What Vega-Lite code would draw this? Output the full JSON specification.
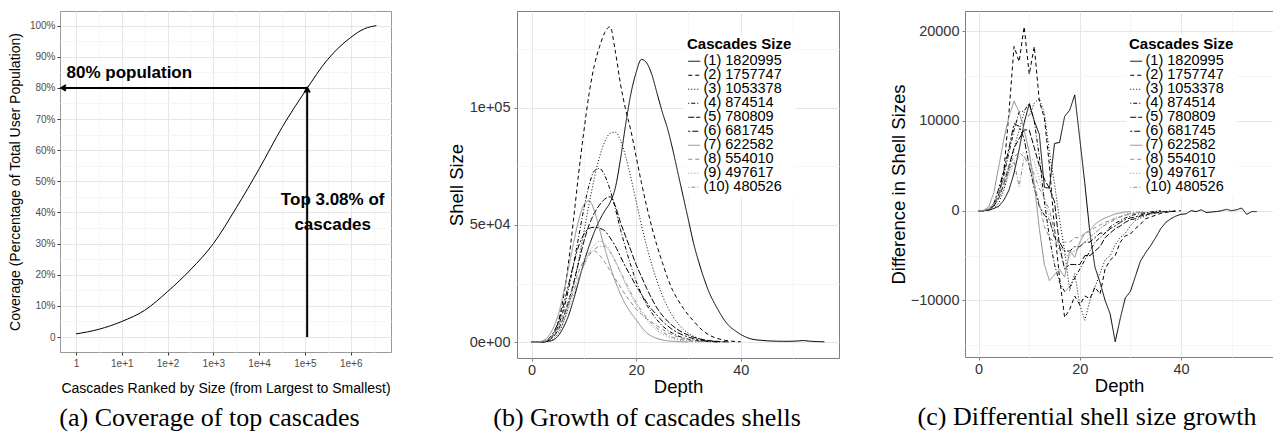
{
"$schema":"https://vega.github.io/schema/vega-lite/v6.json",
"background":"white",
"padding":{"left":7,"top":10,"right":2,"bottom":0},
"bounds":"flush",
"spacing":126,
"config":{"font":"Liberation Sans","view":{"stroke":"#7f7f7f"},
"axis":{"domain":false,"labelFont":"Liberation Sans","titleFont":"Liberation Sans","titleFontWeight":"normal","titleColor":"#000000","labelFlush":false,"gridWidth":1},
"title":{"font":"Liberation Serif","fontSize":26,"fontWeight":"normal","color":"#000000"},
"legend":{"labelFont":"Liberation Sans","titleFont":"Liberation Sans"}},
"resolve":{"scale":{"color":"independent","strokeDash":"independent","x":"independent","y":"independent"},"legend":{"color":"independent","strokeDash":"independent"}},
"datasets":{
"coverage":[{"rank":1,"coverage":1.0},{"rank":3.162,"coverage":2.5},{"rank":10,"coverage":5.0},{"rank":31.62,"coverage":8.6},{"rank":100,"coverage":14.6},{"rank":316.2,"coverage":21.6},{"rank":1000,"coverage":30.0},{"rank":3162,"coverage":41.5},{"rank":10000,"coverage":54.0},{"rank":31623,"coverage":67.3},{"rank":100000,"coverage":78.8},{"rank":316228,"coverage":89.2},{"rank":1000000,"coverage":96.2},{"rank":1995262,"coverage":99.0},{"rank":3630781,"coverage":100}],
"arrows":[{"rank":112000,"rank2":0.48,"coverage":80,"coverage2":80},{"rank":112000,"rank2":112000,"coverage":0,"coverage2":80}],
"heads":[{"rank":0.48,"coverage":80,"dir":"left"},{"rank":112000,"coverage":80,"dir":"up"}],
"notes":[{"rank":14.6,"coverage":84.9,"note":"80% population"},{"rank":403700,"coverage":44.0,"note":"Top 3.08% of"},{"rank":403700,"coverage":36.0,"note":"cascades"}],
"shells":[
{"series":"(1) 1820995","depth":0,"size":0},{"series":"(1) 1820995","depth":1,"size":0},{"series":"(1) 1820995","depth":2,"size":50},{"series":"(1) 1820995","depth":3,"size":300},{"series":"(1) 1820995","depth":4,"size":800},{"series":"(1) 1820995","depth":5,"size":2500},{"series":"(1) 1820995","depth":6,"size":6000},{"series":"(1) 1820995","depth":7,"size":11000},{"series":"(1) 1820995","depth":8,"size":18000},{"series":"(1) 1820995","depth":9,"size":26000},{"series":"(1) 1820995","depth":10,"size":34000},{"series":"(1) 1820995","depth":11,"size":41000},{"series":"(1) 1820995","depth":12,"size":47000},{"series":"(1) 1820995","depth":13,"size":52000},{"series":"(1) 1820995","depth":14,"size":56000},{"series":"(1) 1820995","depth":15,"size":59500},{"series":"(1) 1820995","depth":16,"size":65700},{"series":"(1) 1820995","depth":17,"size":78000},{"series":"(1) 1820995","depth":18,"size":93000},{"series":"(1) 1820995","depth":19,"size":106000},{"series":"(1) 1820995","depth":20,"size":115000},{"series":"(1) 1820995","depth":21,"size":120500},{"series":"(1) 1820995","depth":22,"size":119000},{"series":"(1) 1820995","depth":23,"size":114000},{"series":"(1) 1820995","depth":24,"size":106000},{"series":"(1) 1820995","depth":25,"size":98000},{"series":"(1) 1820995","depth":26,"size":91000},{"series":"(1) 1820995","depth":27,"size":82000},{"series":"(1) 1820995","depth":28,"size":72000},{"series":"(1) 1820995","depth":29,"size":62000},{"series":"(1) 1820995","depth":30,"size":52000},{"series":"(1) 1820995","depth":31,"size":42000},{"series":"(1) 1820995","depth":32,"size":34000},{"series":"(1) 1820995","depth":33,"size":27000},{"series":"(1) 1820995","depth":34,"size":21000},{"series":"(1) 1820995","depth":35,"size":16500},{"series":"(1) 1820995","depth":36,"size":12500},{"series":"(1) 1820995","depth":37,"size":9000},{"series":"(1) 1820995","depth":38,"size":6500},{"series":"(1) 1820995","depth":39,"size":4800},{"series":"(1) 1820995","depth":40,"size":3300},{"series":"(1) 1820995","depth":41,"size":2200},{"series":"(1) 1820995","depth":42,"size":1400},{"series":"(1) 1820995","depth":43,"size":1000},{"series":"(1) 1820995","depth":44,"size":800},{"series":"(1) 1820995","depth":45,"size":600},{"series":"(1) 1820995","depth":46,"size":500},{"series":"(1) 1820995","depth":47,"size":450},{"series":"(1) 1820995","depth":48,"size":400},{"series":"(1) 1820995","depth":49,"size":400},{"series":"(1) 1820995","depth":50,"size":450},{"series":"(1) 1820995","depth":51,"size":550},{"series":"(1) 1820995","depth":52,"size":700},{"series":"(1) 1820995","depth":53,"size":500},{"series":"(1) 1820995","depth":54,"size":350},{"series":"(1) 1820995","depth":55,"size":250},{"series":"(1) 1820995","depth":56,"size":200},
{"series":"(2) 1757747","depth":0,"size":0},{"series":"(2) 1757747","depth":1,"size":0},{"series":"(2) 1757747","depth":2,"size":100},{"series":"(2) 1757747","depth":3,"size":500},{"series":"(2) 1757747","depth":4,"size":2500},{"series":"(2) 1757747","depth":5,"size":8000},{"series":"(2) 1757747","depth":6,"size":18000},{"series":"(2) 1757747","depth":7,"size":33000},{"series":"(2) 1757747","depth":8,"size":52000},{"series":"(2) 1757747","depth":9,"size":72000},{"series":"(2) 1757747","depth":10,"size":90000},{"series":"(2) 1757747","depth":11,"size":106000},{"series":"(2) 1757747","depth":12,"size":118000},{"series":"(2) 1757747","depth":13,"size":126000},{"series":"(2) 1757747","depth":14,"size":132000},{"series":"(2) 1757747","depth":15,"size":134400},{"series":"(2) 1757747","depth":16,"size":124000},{"series":"(2) 1757747","depth":17,"size":110000},{"series":"(2) 1757747","depth":18,"size":99000},{"series":"(2) 1757747","depth":19,"size":90000},{"series":"(2) 1757747","depth":20,"size":79000},{"series":"(2) 1757747","depth":21,"size":68000},{"series":"(2) 1757747","depth":22,"size":58000},{"series":"(2) 1757747","depth":23,"size":49000},{"series":"(2) 1757747","depth":24,"size":41000},{"series":"(2) 1757747","depth":25,"size":34000},{"series":"(2) 1757747","depth":26,"size":27500},{"series":"(2) 1757747","depth":27,"size":22000},{"series":"(2) 1757747","depth":28,"size":18000},{"series":"(2) 1757747","depth":29,"size":14500},{"series":"(2) 1757747","depth":30,"size":11500},{"series":"(2) 1757747","depth":31,"size":9000},{"series":"(2) 1757747","depth":32,"size":6500},{"series":"(2) 1757747","depth":33,"size":4500},{"series":"(2) 1757747","depth":34,"size":3000},{"series":"(2) 1757747","depth":35,"size":2000},{"series":"(2) 1757747","depth":36,"size":1300},{"series":"(2) 1757747","depth":37,"size":800},{"series":"(2) 1757747","depth":38,"size":500},{"series":"(2) 1757747","depth":39,"size":300},{"series":"(2) 1757747","depth":40,"size":200},
{"series":"(3) 1053378","depth":0,"size":0},{"series":"(3) 1053378","depth":1,"size":0},{"series":"(3) 1053378","depth":2,"size":50},{"series":"(3) 1053378","depth":3,"size":300},{"series":"(3) 1053378","depth":4,"size":1200},{"series":"(3) 1053378","depth":5,"size":3500},{"series":"(3) 1053378","depth":6,"size":8000},{"series":"(3) 1053378","depth":7,"size":15000},{"series":"(3) 1053378","depth":8,"size":24000},{"series":"(3) 1053378","depth":9,"size":35000},{"series":"(3) 1053378","depth":10,"size":47000},{"series":"(3) 1053378","depth":11,"size":59000},{"series":"(3) 1053378","depth":12,"size":70000},{"series":"(3) 1053378","depth":13,"size":79000},{"series":"(3) 1053378","depth":14,"size":85500},{"series":"(3) 1053378","depth":15,"size":89000},{"series":"(3) 1053378","depth":16,"size":89500},{"series":"(3) 1053378","depth":17,"size":86000},{"series":"(3) 1053378","depth":18,"size":79000},{"series":"(3) 1053378","depth":19,"size":70000},{"series":"(3) 1053378","depth":20,"size":60000},{"series":"(3) 1053378","depth":21,"size":50000},{"series":"(3) 1053378","depth":22,"size":41000},{"series":"(3) 1053378","depth":23,"size":33000},{"series":"(3) 1053378","depth":24,"size":26000},{"series":"(3) 1053378","depth":25,"size":20000},{"series":"(3) 1053378","depth":26,"size":15000},{"series":"(3) 1053378","depth":27,"size":11000},{"series":"(3) 1053378","depth":28,"size":8000},{"series":"(3) 1053378","depth":29,"size":5500},{"series":"(3) 1053378","depth":30,"size":3800},{"series":"(3) 1053378","depth":31,"size":2500},{"series":"(3) 1053378","depth":32,"size":1600},{"series":"(3) 1053378","depth":33,"size":1000},{"series":"(3) 1053378","depth":34,"size":600},{"series":"(3) 1053378","depth":35,"size":350},{"series":"(3) 1053378","depth":36,"size":200},{"series":"(3) 1053378","depth":37,"size":100},
{"series":"(4) 874514","depth":0,"size":0},{"series":"(4) 874514","depth":1,"size":0},{"series":"(4) 874514","depth":2,"size":100},{"series":"(4) 874514","depth":3,"size":700},{"series":"(4) 874514","depth":4,"size":2500},{"series":"(4) 874514","depth":5,"size":6500},{"series":"(4) 874514","depth":6,"size":13000},{"series":"(4) 874514","depth":7,"size":22000},{"series":"(4) 874514","depth":8,"size":33000},{"series":"(4) 874514","depth":9,"size":45000},{"series":"(4) 874514","depth":10,"size":57000},{"series":"(4) 874514","depth":11,"size":67000},{"series":"(4) 874514","depth":12,"size":73000},{"series":"(4) 874514","depth":13,"size":74000},{"series":"(4) 874514","depth":14,"size":71000},{"series":"(4) 874514","depth":15,"size":65000},{"series":"(4) 874514","depth":16,"size":57000},{"series":"(4) 874514","depth":17,"size":48000},{"series":"(4) 874514","depth":18,"size":40000},{"series":"(4) 874514","depth":19,"size":32500},{"series":"(4) 874514","depth":20,"size":26000},{"series":"(4) 874514","depth":21,"size":20500},{"series":"(4) 874514","depth":22,"size":16000},{"series":"(4) 874514","depth":23,"size":12500},{"series":"(4) 874514","depth":24,"size":9500},{"series":"(4) 874514","depth":25,"size":7000},{"series":"(4) 874514","depth":26,"size":5200},{"series":"(4) 874514","depth":27,"size":3800},{"series":"(4) 874514","depth":28,"size":2700},{"series":"(4) 874514","depth":29,"size":1900},{"series":"(4) 874514","depth":30,"size":1300},{"series":"(4) 874514","depth":31,"size":900},{"series":"(4) 874514","depth":32,"size":600},{"series":"(4) 874514","depth":33,"size":400},{"series":"(4) 874514","depth":34,"size":250},{"series":"(4) 874514","depth":35,"size":150},{"series":"(4) 874514","depth":36,"size":100},
{"series":"(5) 780809","depth":0,"size":0},{"series":"(5) 780809","depth":1,"size":0},{"series":"(5) 780809","depth":2,"size":100},{"series":"(5) 780809","depth":3,"size":600},{"series":"(5) 780809","depth":4,"size":2000},{"series":"(5) 780809","depth":5,"size":5000},{"series":"(5) 780809","depth":6,"size":10000},{"series":"(5) 780809","depth":7,"size":17000},{"series":"(5) 780809","depth":8,"size":25000},{"series":"(5) 780809","depth":9,"size":34000},{"series":"(5) 780809","depth":10,"size":43000},{"series":"(5) 780809","depth":11,"size":50000},{"series":"(5) 780809","depth":12,"size":55000},{"series":"(5) 780809","depth":13,"size":58500},{"series":"(5) 780809","depth":14,"size":61000},{"series":"(5) 780809","depth":15,"size":62000},{"series":"(5) 780809","depth":16,"size":58000},{"series":"(5) 780809","depth":17,"size":51000},{"series":"(5) 780809","depth":18,"size":45000},{"series":"(5) 780809","depth":19,"size":39000},{"series":"(5) 780809","depth":20,"size":33000},{"series":"(5) 780809","depth":21,"size":28000},{"series":"(5) 780809","depth":22,"size":23000},{"series":"(5) 780809","depth":23,"size":18500},{"series":"(5) 780809","depth":24,"size":14500},{"series":"(5) 780809","depth":25,"size":11500},{"series":"(5) 780809","depth":26,"size":9000},{"series":"(5) 780809","depth":27,"size":7000},{"series":"(5) 780809","depth":28,"size":5300},{"series":"(5) 780809","depth":29,"size":4000},{"series":"(5) 780809","depth":30,"size":3000},{"series":"(5) 780809","depth":31,"size":2100},{"series":"(5) 780809","depth":32,"size":1500},{"series":"(5) 780809","depth":33,"size":1000},{"series":"(5) 780809","depth":34,"size":700},{"series":"(5) 780809","depth":35,"size":450},{"series":"(5) 780809","depth":36,"size":300},{"series":"(5) 780809","depth":37,"size":200},{"series":"(5) 780809","depth":38,"size":100},
{"series":"(6) 681745","depth":0,"size":0},{"series":"(6) 681745","depth":1,"size":0},{"series":"(6) 681745","depth":2,"size":200},{"series":"(6) 681745","depth":3,"size":1000},{"series":"(6) 681745","depth":4,"size":3500},{"series":"(6) 681745","depth":5,"size":8000},{"series":"(6) 681745","depth":6,"size":15000},{"series":"(6) 681745","depth":7,"size":24000},{"series":"(6) 681745","depth":8,"size":33000},{"series":"(6) 681745","depth":9,"size":41000},{"series":"(6) 681745","depth":10,"size":46000},{"series":"(6) 681745","depth":11,"size":48500},{"series":"(6) 681745","depth":12,"size":49000},{"series":"(6) 681745","depth":13,"size":48500},{"series":"(6) 681745","depth":14,"size":47500},{"series":"(6) 681745","depth":15,"size":44500},{"series":"(6) 681745","depth":16,"size":41000},{"series":"(6) 681745","depth":17,"size":36500},{"series":"(6) 681745","depth":18,"size":32000},{"series":"(6) 681745","depth":19,"size":28000},{"series":"(6) 681745","depth":20,"size":24000},{"series":"(6) 681745","depth":21,"size":20500},{"series":"(6) 681745","depth":22,"size":17000},{"series":"(6) 681745","depth":23,"size":14000},{"series":"(6) 681745","depth":24,"size":11500},{"series":"(6) 681745","depth":25,"size":9000},{"series":"(6) 681745","depth":26,"size":7000},{"series":"(6) 681745","depth":27,"size":5300},{"series":"(6) 681745","depth":28,"size":4000},{"series":"(6) 681745","depth":29,"size":3000},{"series":"(6) 681745","depth":30,"size":2200},{"series":"(6) 681745","depth":31,"size":1500},{"series":"(6) 681745","depth":32,"size":1000},{"series":"(6) 681745","depth":33,"size":700},{"series":"(6) 681745","depth":34,"size":450},{"series":"(6) 681745","depth":35,"size":300},{"series":"(6) 681745","depth":36,"size":200},
{"series":"(7) 622582","depth":0,"size":0},{"series":"(7) 622582","depth":1,"size":50},{"series":"(7) 622582","depth":2,"size":500},{"series":"(7) 622582","depth":3,"size":2000},{"series":"(7) 622582","depth":4,"size":5500},{"series":"(7) 622582","depth":5,"size":11000},{"series":"(7) 622582","depth":6,"size":20000},{"series":"(7) 622582","depth":7,"size":31000},{"series":"(7) 622582","depth":8,"size":42000},{"series":"(7) 622582","depth":9,"size":52000},{"series":"(7) 622582","depth":10,"size":58500},{"series":"(7) 622582","depth":11,"size":60300},{"series":"(7) 622582","depth":12,"size":56000},{"series":"(7) 622582","depth":13,"size":48000},{"series":"(7) 622582","depth":14,"size":40000},{"series":"(7) 622582","depth":15,"size":32500},{"series":"(7) 622582","depth":16,"size":26000},{"series":"(7) 622582","depth":17,"size":20500},{"series":"(7) 622582","depth":18,"size":16000},{"series":"(7) 622582","depth":19,"size":12500},{"series":"(7) 622582","depth":20,"size":9500},{"series":"(7) 622582","depth":21,"size":6500},{"series":"(7) 622582","depth":22,"size":4000},{"series":"(7) 622582","depth":23,"size":2500},{"series":"(7) 622582","depth":24,"size":1600},{"series":"(7) 622582","depth":25,"size":1000},{"series":"(7) 622582","depth":26,"size":600},{"series":"(7) 622582","depth":27,"size":400},{"series":"(7) 622582","depth":28,"size":250},{"series":"(7) 622582","depth":29,"size":150},{"series":"(7) 622582","depth":30,"size":100},
{"series":"(8) 554010","depth":0,"size":0},{"series":"(8) 554010","depth":1,"size":0},{"series":"(8) 554010","depth":2,"size":200},{"series":"(8) 554010","depth":3,"size":1000},{"series":"(8) 554010","depth":4,"size":3000},{"series":"(8) 554010","depth":5,"size":6500},{"series":"(8) 554010","depth":6,"size":11500},{"series":"(8) 554010","depth":7,"size":17500},{"series":"(8) 554010","depth":8,"size":24000},{"series":"(8) 554010","depth":9,"size":30000},{"series":"(8) 554010","depth":10,"size":35000},{"series":"(8) 554010","depth":11,"size":38000},{"series":"(8) 554010","depth":12,"size":38800},{"series":"(8) 554010","depth":13,"size":37000},{"series":"(8) 554010","depth":14,"size":34000},{"series":"(8) 554010","depth":15,"size":30500},{"series":"(8) 554010","depth":16,"size":27000},{"series":"(8) 554010","depth":17,"size":23500},{"series":"(8) 554010","depth":18,"size":20000},{"series":"(8) 554010","depth":19,"size":17000},{"series":"(8) 554010","depth":20,"size":14000},{"series":"(8) 554010","depth":21,"size":12000},{"series":"(8) 554010","depth":22,"size":10000},{"series":"(8) 554010","depth":23,"size":8500},{"series":"(8) 554010","depth":24,"size":7000},{"series":"(8) 554010","depth":25,"size":5500},{"series":"(8) 554010","depth":26,"size":4200},{"series":"(8) 554010","depth":27,"size":3100},{"series":"(8) 554010","depth":28,"size":2200},{"series":"(8) 554010","depth":29,"size":1500},{"series":"(8) 554010","depth":30,"size":1000},{"series":"(8) 554010","depth":31,"size":600},{"series":"(8) 554010","depth":32,"size":400},{"series":"(8) 554010","depth":33,"size":250},{"series":"(8) 554010","depth":34,"size":150},
{"series":"(9) 497617","depth":0,"size":0},{"series":"(9) 497617","depth":1,"size":0},{"series":"(9) 497617","depth":2,"size":100},{"series":"(9) 497617","depth":3,"size":600},{"series":"(9) 497617","depth":4,"size":2000},{"series":"(9) 497617","depth":5,"size":4500},{"series":"(9) 497617","depth":6,"size":8500},{"series":"(9) 497617","depth":7,"size":14000},{"series":"(9) 497617","depth":8,"size":20000},{"series":"(9) 497617","depth":9,"size":26500},{"series":"(9) 497617","depth":10,"size":32500},{"series":"(9) 497617","depth":11,"size":38000},{"series":"(9) 497617","depth":12,"size":41500},{"series":"(9) 497617","depth":13,"size":43000},{"series":"(9) 497617","depth":14,"size":42000},{"series":"(9) 497617","depth":15,"size":39000},{"series":"(9) 497617","depth":16,"size":34500},{"series":"(9) 497617","depth":17,"size":29500},{"series":"(9) 497617","depth":18,"size":24500},{"series":"(9) 497617","depth":19,"size":20000},{"series":"(9) 497617","depth":20,"size":16000},{"series":"(9) 497617","depth":21,"size":12500},{"series":"(9) 497617","depth":22,"size":9500},{"series":"(9) 497617","depth":23,"size":7000},{"series":"(9) 497617","depth":24,"size":5000},{"series":"(9) 497617","depth":25,"size":3500},{"series":"(9) 497617","depth":26,"size":2400},{"series":"(9) 497617","depth":27,"size":1600},{"series":"(9) 497617","depth":28,"size":1000},{"series":"(9) 497617","depth":29,"size":600},{"series":"(9) 497617","depth":30,"size":400},{"series":"(9) 497617","depth":31,"size":250},{"series":"(9) 497617","depth":32,"size":150},
{"series":"(10) 480526","depth":0,"size":0},{"series":"(10) 480526","depth":1,"size":0},{"series":"(10) 480526","depth":2,"size":150},{"series":"(10) 480526","depth":3,"size":800},{"series":"(10) 480526","depth":4,"size":2500},{"series":"(10) 480526","depth":5,"size":5500},{"series":"(10) 480526","depth":6,"size":10000},{"series":"(10) 480526","depth":7,"size":15500},{"series":"(10) 480526","depth":8,"size":21500},{"series":"(10) 480526","depth":9,"size":27500},{"series":"(10) 480526","depth":10,"size":33000},{"series":"(10) 480526","depth":11,"size":37000},{"series":"(10) 480526","depth":12,"size":39500},{"series":"(10) 480526","depth":13,"size":40800},{"series":"(10) 480526","depth":14,"size":40900},{"series":"(10) 480526","depth":15,"size":38500},{"series":"(10) 480526","depth":16,"size":34500},{"series":"(10) 480526","depth":17,"size":30000},{"series":"(10) 480526","depth":18,"size":25500},{"series":"(10) 480526","depth":19,"size":21000},{"series":"(10) 480526","depth":20,"size":17000},{"series":"(10) 480526","depth":21,"size":13500},{"series":"(10) 480526","depth":22,"size":10500},{"series":"(10) 480526","depth":23,"size":8000},{"series":"(10) 480526","depth":24,"size":6000},{"series":"(10) 480526","depth":25,"size":4400},{"series":"(10) 480526","depth":26,"size":3100},{"series":"(10) 480526","depth":27,"size":2100},{"series":"(10) 480526","depth":28,"size":1400},{"series":"(10) 480526","depth":29,"size":900},{"series":"(10) 480526","depth":30,"size":600},{"series":"(10) 480526","depth":31,"size":400},{"series":"(10) 480526","depth":32,"size":250},{"series":"(10) 480526","depth":33,"size":150}
],
"diffs":[
{"series":"(1) 1820995","depth":0,"diff":0},{"series":"(1) 1820995","depth":1,"diff":0},{"series":"(1) 1820995","depth":2,"diff":50},{"series":"(1) 1820995","depth":3,"diff":250},{"series":"(1) 1820995","depth":4,"diff":500},{"series":"(1) 1820995","depth":5,"diff":1200},{"series":"(1) 1820995","depth":6,"diff":2300},{"series":"(1) 1820995","depth":7,"diff":4200},{"series":"(1) 1820995","depth":8,"diff":6800},{"series":"(1) 1820995","depth":9,"diff":9800},{"series":"(1) 1820995","depth":10,"diff":11900},{"series":"(1) 1820995","depth":11,"diff":10000},{"series":"(1) 1820995","depth":12,"diff":8500},{"series":"(1) 1820995","depth":13,"diff":2600},{"series":"(1) 1820995","depth":14,"diff":2500},{"series":"(1) 1820995","depth":15,"diff":7500},{"series":"(1) 1820995","depth":16,"diff":7600},{"series":"(1) 1820995","depth":17,"diff":10500},{"series":"(1) 1820995","depth":18,"diff":11200},{"series":"(1) 1820995","depth":19,"diff":12900},{"series":"(1) 1820995","depth":20,"diff":8000},{"series":"(1) 1820995","depth":21,"diff":3000},{"series":"(1) 1820995","depth":22,"diff":-2500},{"series":"(1) 1820995","depth":23,"diff":-6300},{"series":"(1) 1820995","depth":24,"diff":-8000},{"series":"(1) 1820995","depth":25,"diff":-10000},{"series":"(1) 1820995","depth":26,"diff":-11500},{"series":"(1) 1820995","depth":27,"diff":-14600},{"series":"(1) 1820995","depth":28,"diff":-12000},{"series":"(1) 1820995","depth":29,"diff":-9700},{"series":"(1) 1820995","depth":30,"diff":-9000},{"series":"(1) 1820995","depth":31,"diff":-7300},{"series":"(1) 1820995","depth":32,"diff":-5600},{"series":"(1) 1820995","depth":33,"diff":-4700},{"series":"(1) 1820995","depth":34,"diff":-3900},{"series":"(1) 1820995","depth":35,"diff":-3000},{"series":"(1) 1820995","depth":36,"diff":-2000},{"series":"(1) 1820995","depth":37,"diff":-1300},{"series":"(1) 1820995","depth":38,"diff":-900},{"series":"(1) 1820995","depth":39,"diff":-600},{"series":"(1) 1820995","depth":40,"diff":-400},{"series":"(1) 1820995","depth":41,"diff":-350},{"series":"(1) 1820995","depth":42,"diff":0},{"series":"(1) 1820995","depth":43,"diff":-100},{"series":"(1) 1820995","depth":44,"diff":100},{"series":"(1) 1820995","depth":45,"diff":-200},{"series":"(1) 1820995","depth":46,"diff":-150},{"series":"(1) 1820995","depth":47,"diff":-100},{"series":"(1) 1820995","depth":48,"diff":0},{"series":"(1) 1820995","depth":49,"diff":150},{"series":"(1) 1820995","depth":50,"diff":0},{"series":"(1) 1820995","depth":51,"diff":100},{"series":"(1) 1820995","depth":52,"diff":300},{"series":"(1) 1820995","depth":53,"diff":-400},{"series":"(1) 1820995","depth":54,"diff":-100},{"series":"(1) 1820995","depth":55,"diff":-100},
{"series":"(2) 1757747","depth":0,"diff":0},{"series":"(2) 1757747","depth":1,"diff":0},{"series":"(2) 1757747","depth":2,"diff":100},{"series":"(2) 1757747","depth":3,"diff":500},{"series":"(2) 1757747","depth":4,"diff":1900},{"series":"(2) 1757747","depth":5,"diff":4500},{"series":"(2) 1757747","depth":6,"diff":11000},{"series":"(2) 1757747","depth":7,"diff":18300},{"series":"(2) 1757747","depth":8,"diff":16600},{"series":"(2) 1757747","depth":9,"diff":20500},{"series":"(2) 1757747","depth":10,"diff":15200},{"series":"(2) 1757747","depth":11,"diff":18300},{"series":"(2) 1757747","depth":12,"diff":12200},{"series":"(2) 1757747","depth":13,"diff":10300},{"series":"(2) 1757747","depth":14,"diff":5000},{"series":"(2) 1757747","depth":15,"diff":-2000},{"series":"(2) 1757747","depth":16,"diff":-7500},{"series":"(2) 1757747","depth":17,"diff":-11900},{"series":"(2) 1757747","depth":18,"diff":-11000},{"series":"(2) 1757747","depth":19,"diff":-9500},{"series":"(2) 1757747","depth":20,"diff":-10500},{"series":"(2) 1757747","depth":21,"diff":-9500},{"series":"(2) 1757747","depth":22,"diff":-9800},{"series":"(2) 1757747","depth":23,"diff":-8500},{"series":"(2) 1757747","depth":24,"diff":-9300},{"series":"(2) 1757747","depth":25,"diff":-6500},{"series":"(2) 1757747","depth":26,"diff":-5500},{"series":"(2) 1757747","depth":27,"diff":-5000},{"series":"(2) 1757747","depth":28,"diff":-3500},{"series":"(2) 1757747","depth":29,"diff":-2800},{"series":"(2) 1757747","depth":30,"diff":-2600},{"series":"(2) 1757747","depth":31,"diff":-2000},{"series":"(2) 1757747","depth":32,"diff":-1500},{"series":"(2) 1757747","depth":33,"diff":-900},{"series":"(2) 1757747","depth":34,"diff":-700},{"series":"(2) 1757747","depth":35,"diff":-500},{"series":"(2) 1757747","depth":36,"diff":-300},{"series":"(2) 1757747","depth":37,"diff":-200},{"series":"(2) 1757747","depth":38,"diff":-100},{"series":"(2) 1757747","depth":39,"diff":-50},{"series":"(2) 1757747","depth":40,"diff":0},
{"series":"(3) 1053378","depth":0,"diff":0},{"series":"(3) 1053378","depth":1,"diff":0},{"series":"(3) 1053378","depth":2,"diff":50},{"series":"(3) 1053378","depth":3,"diff":250},{"series":"(3) 1053378","depth":4,"diff":900},{"series":"(3) 1053378","depth":5,"diff":2300},{"series":"(3) 1053378","depth":6,"diff":4500},{"series":"(3) 1053378","depth":7,"diff":7000},{"series":"(3) 1053378","depth":8,"diff":9000},{"series":"(3) 1053378","depth":9,"diff":11000},{"series":"(3) 1053378","depth":10,"diff":10500},{"series":"(3) 1053378","depth":11,"diff":12000},{"series":"(3) 1053378","depth":12,"diff":12500},{"series":"(3) 1053378","depth":13,"diff":10800},{"series":"(3) 1053378","depth":14,"diff":6500},{"series":"(3) 1053378","depth":15,"diff":3000},{"series":"(3) 1053378","depth":16,"diff":-1000},{"series":"(3) 1053378","depth":17,"diff":-4500},{"series":"(3) 1053378","depth":18,"diff":-8900},{"series":"(3) 1053378","depth":19,"diff":-7000},{"series":"(3) 1053378","depth":20,"diff":-10500},{"series":"(3) 1053378","depth":21,"diff":-12200},{"series":"(3) 1053378","depth":22,"diff":-10000},{"series":"(3) 1053378","depth":23,"diff":-8500},{"series":"(3) 1053378","depth":24,"diff":-7000},{"series":"(3) 1053378","depth":25,"diff":-5500},{"series":"(3) 1053378","depth":26,"diff":-5000},{"series":"(3) 1053378","depth":27,"diff":-3800},{"series":"(3) 1053378","depth":28,"diff":-3000},{"series":"(3) 1053378","depth":29,"diff":-2500},{"series":"(3) 1053378","depth":30,"diff":-1700},{"series":"(3) 1053378","depth":31,"diff":-1100},{"series":"(3) 1053378","depth":32,"diff":-800},{"series":"(3) 1053378","depth":33,"diff":-600},{"series":"(3) 1053378","depth":34,"diff":-400},{"series":"(3) 1053378","depth":35,"diff":-250},{"series":"(3) 1053378","depth":36,"diff":-150},{"series":"(3) 1053378","depth":37,"diff":-100},{"series":"(3) 1053378","depth":38,"diff":0},
{"series":"(4) 874514","depth":0,"diff":0},{"series":"(4) 874514","depth":1,"diff":0},{"series":"(4) 874514","depth":2,"diff":100},{"series":"(4) 874514","depth":3,"diff":600},{"series":"(4) 874514","depth":4,"diff":1800},{"series":"(4) 874514","depth":5,"diff":4000},{"series":"(4) 874514","depth":6,"diff":6500},{"series":"(4) 874514","depth":7,"diff":9000},{"series":"(4) 874514","depth":8,"diff":11000},{"series":"(4) 874514","depth":9,"diff":11100},{"series":"(4) 874514","depth":10,"diff":12000},{"series":"(4) 874514","depth":11,"diff":10000},{"series":"(4) 874514","depth":12,"diff":6000},{"series":"(4) 874514","depth":13,"diff":1000},{"series":"(4) 874514","depth":14,"diff":-3000},{"series":"(4) 874514","depth":15,"diff":-6000},{"series":"(4) 874514","depth":16,"diff":-8000},{"series":"(4) 874514","depth":17,"diff":-9000},{"series":"(4) 874514","depth":18,"diff":-8500},{"series":"(4) 874514","depth":19,"diff":-7500},{"series":"(4) 874514","depth":20,"diff":-6500},{"series":"(4) 874514","depth":21,"diff":-5500},{"series":"(4) 874514","depth":22,"diff":-4500},{"series":"(4) 874514","depth":23,"diff":-3500},{"series":"(4) 874514","depth":24,"diff":-3000},{"series":"(4) 874514","depth":25,"diff":-2500},{"series":"(4) 874514","depth":26,"diff":-1800},{"series":"(4) 874514","depth":27,"diff":-1400},{"series":"(4) 874514","depth":28,"diff":-1100},{"series":"(4) 874514","depth":29,"diff":-800},{"series":"(4) 874514","depth":30,"diff":-600},{"series":"(4) 874514","depth":31,"diff":-400},{"series":"(4) 874514","depth":32,"diff":-300},{"series":"(4) 874514","depth":33,"diff":-200},{"series":"(4) 874514","depth":34,"diff":-150},{"series":"(4) 874514","depth":35,"diff":-50},{"series":"(4) 874514","depth":36,"diff":0},
{"series":"(5) 780809","depth":0,"diff":0},{"series":"(5) 780809","depth":1,"diff":0},{"series":"(5) 780809","depth":2,"diff":100},{"series":"(5) 780809","depth":3,"diff":500},{"series":"(5) 780809","depth":4,"diff":1400},{"series":"(5) 780809","depth":5,"diff":3000},{"series":"(5) 780809","depth":6,"diff":5000},{"series":"(5) 780809","depth":7,"diff":7000},{"series":"(5) 780809","depth":8,"diff":8000},{"series":"(5) 780809","depth":9,"diff":9000},{"series":"(5) 780809","depth":10,"diff":9000},{"series":"(5) 780809","depth":11,"diff":7000},{"series":"(5) 780809","depth":12,"diff":5000},{"series":"(5) 780809","depth":13,"diff":3500},{"series":"(5) 780809","depth":14,"diff":2500},{"series":"(5) 780809","depth":15,"diff":1000},{"series":"(5) 780809","depth":16,"diff":-4000},{"series":"(5) 780809","depth":17,"diff":-6500},{"series":"(5) 780809","depth":18,"diff":-6000},{"series":"(5) 780809","depth":19,"diff":-6000},{"series":"(5) 780809","depth":20,"diff":-6000},{"series":"(5) 780809","depth":21,"diff":-5000},{"series":"(5) 780809","depth":22,"diff":-5000},{"series":"(5) 780809","depth":23,"diff":-4500},{"series":"(5) 780809","depth":24,"diff":-4000},{"series":"(5) 780809","depth":25,"diff":-3000},{"series":"(5) 780809","depth":26,"diff":-2500},{"series":"(5) 780809","depth":27,"diff":-2000},{"series":"(5) 780809","depth":28,"diff":-1700},{"series":"(5) 780809","depth":29,"diff":-1300},{"series":"(5) 780809","depth":30,"diff":-1000},{"series":"(5) 780809","depth":31,"diff":-900},{"series":"(5) 780809","depth":32,"diff":-600},{"series":"(5) 780809","depth":33,"diff":-500},{"series":"(5) 780809","depth":34,"diff":-300},{"series":"(5) 780809","depth":35,"diff":-250},{"series":"(5) 780809","depth":36,"diff":-150},{"series":"(5) 780809","depth":37,"diff":-100},{"series":"(5) 780809","depth":38,"diff":-100},{"series":"(5) 780809","depth":39,"diff":0},
{"series":"(6) 681745","depth":0,"diff":0},{"series":"(6) 681745","depth":1,"diff":0},{"series":"(6) 681745","depth":2,"diff":200},{"series":"(6) 681745","depth":3,"diff":800},{"series":"(6) 681745","depth":4,"diff":2500},{"series":"(6) 681745","depth":5,"diff":4500},{"series":"(6) 681745","depth":6,"diff":7000},{"series":"(6) 681745","depth":7,"diff":9700},{"series":"(6) 681745","depth":8,"diff":9400},{"series":"(6) 681745","depth":9,"diff":8000},{"series":"(6) 681745","depth":10,"diff":5000},{"series":"(6) 681745","depth":11,"diff":2500},{"series":"(6) 681745","depth":12,"diff":500},{"series":"(6) 681745","depth":13,"diff":-500},{"series":"(6) 681745","depth":14,"diff":-1000},{"series":"(6) 681745","depth":15,"diff":-3000},{"series":"(6) 681745","depth":16,"diff":-3500},{"series":"(6) 681745","depth":17,"diff":-4500},{"series":"(6) 681745","depth":18,"diff":-4500},{"series":"(6) 681745","depth":19,"diff":-4000},{"series":"(6) 681745","depth":20,"diff":-4000},{"series":"(6) 681745","depth":21,"diff":-3500},{"series":"(6) 681745","depth":22,"diff":-3500},{"series":"(6) 681745","depth":23,"diff":-3000},{"series":"(6) 681745","depth":24,"diff":-2500},{"series":"(6) 681745","depth":25,"diff":-2500},{"series":"(6) 681745","depth":26,"diff":-2000},{"series":"(6) 681745","depth":27,"diff":-1700},{"series":"(6) 681745","depth":28,"diff":-1300},{"series":"(6) 681745","depth":29,"diff":-1000},{"series":"(6) 681745","depth":30,"diff":-800},{"series":"(6) 681745","depth":31,"diff":-700},{"series":"(6) 681745","depth":32,"diff":-500},{"series":"(6) 681745","depth":33,"diff":-300},{"series":"(6) 681745","depth":34,"diff":-250},{"series":"(6) 681745","depth":35,"diff":-150},{"series":"(6) 681745","depth":36,"diff":-100},
{"series":"(7) 622582","depth":0,"diff":0},{"series":"(7) 622582","depth":1,"diff":50},{"series":"(7) 622582","depth":2,"diff":450},{"series":"(7) 622582","depth":3,"diff":2000},{"series":"(7) 622582","depth":4,"diff":5000},{"series":"(7) 622582","depth":5,"diff":8000},{"series":"(7) 622582","depth":6,"diff":10500},{"series":"(7) 622582","depth":7,"diff":12200},{"series":"(7) 622582","depth":8,"diff":11000},{"series":"(7) 622582","depth":9,"diff":9000},{"series":"(7) 622582","depth":10,"diff":6500},{"series":"(7) 622582","depth":11,"diff":3000},{"series":"(7) 622582","depth":12,"diff":-2000},{"series":"(7) 622582","depth":13,"diff":-6000},{"series":"(7) 622582","depth":14,"diff":-7800},{"series":"(7) 622582","depth":15,"diff":-7100},{"series":"(7) 622582","depth":16,"diff":-6500},{"series":"(7) 622582","depth":17,"diff":-7400},{"series":"(7) 622582","depth":18,"diff":-4500},{"series":"(7) 622582","depth":19,"diff":-5200},{"series":"(7) 622582","depth":20,"diff":-3500},{"series":"(7) 622582","depth":21,"diff":-2500},{"series":"(7) 622582","depth":22,"diff":-2200},{"series":"(7) 622582","depth":23,"diff":-1500},{"series":"(7) 622582","depth":24,"diff":-1100},{"series":"(7) 622582","depth":25,"diff":-800},{"series":"(7) 622582","depth":26,"diff":-600},{"series":"(7) 622582","depth":27,"diff":-350},{"series":"(7) 622582","depth":28,"diff":-250},{"series":"(7) 622582","depth":29,"diff":-150},{"series":"(7) 622582","depth":30,"diff":-100},
{"series":"(8) 554010","depth":0,"diff":0},{"series":"(8) 554010","depth":1,"diff":0},{"series":"(8) 554010","depth":2,"diff":200},{"series":"(8) 554010","depth":3,"diff":800},{"series":"(8) 554010","depth":4,"diff":2000},{"series":"(8) 554010","depth":5,"diff":3500},{"series":"(8) 554010","depth":6,"diff":5000},{"series":"(8) 554010","depth":7,"diff":6000},{"series":"(8) 554010","depth":8,"diff":6500},{"series":"(8) 554010","depth":9,"diff":6000},{"series":"(8) 554010","depth":10,"diff":5000},{"series":"(8) 554010","depth":11,"diff":3000},{"series":"(8) 554010","depth":12,"diff":800},{"series":"(8) 554010","depth":13,"diff":-1800},{"series":"(8) 554010","depth":14,"diff":-3000},{"series":"(8) 554010","depth":15,"diff":-3500},{"series":"(8) 554010","depth":16,"diff":-3500},{"series":"(8) 554010","depth":17,"diff":-3500},{"series":"(8) 554010","depth":18,"diff":-3500},{"series":"(8) 554010","depth":19,"diff":-3000},{"series":"(8) 554010","depth":20,"diff":-3000},{"series":"(8) 554010","depth":21,"diff":-2500},{"series":"(8) 554010","depth":22,"diff":-2300},{"series":"(8) 554010","depth":23,"diff":-1900},{"series":"(8) 554010","depth":24,"diff":-1600},{"series":"(8) 554010","depth":25,"diff":-1300},{"series":"(8) 554010","depth":26,"diff":-1100},{"series":"(8) 554010","depth":27,"diff":-900},{"series":"(8) 554010","depth":28,"diff":-700},{"series":"(8) 554010","depth":29,"diff":-500},{"series":"(8) 554010","depth":30,"diff":-400},{"series":"(8) 554010","depth":31,"diff":-300},{"series":"(8) 554010","depth":32,"diff":-200},{"series":"(8) 554010","depth":33,"diff":-100},
{"series":"(9) 497617","depth":0,"diff":0},{"series":"(9) 497617","depth":1,"diff":0},{"series":"(9) 497617","depth":2,"diff":100},{"series":"(9) 497617","depth":3,"diff":500},{"series":"(9) 497617","depth":4,"diff":1400},{"series":"(9) 497617","depth":5,"diff":2500},{"series":"(9) 497617","depth":6,"diff":4000},{"series":"(9) 497617","depth":7,"diff":5500},{"series":"(9) 497617","depth":8,"diff":6000},{"series":"(9) 497617","depth":9,"diff":6500},{"series":"(9) 497617","depth":10,"diff":6000},{"series":"(9) 497617","depth":11,"diff":5500},{"series":"(9) 497617","depth":12,"diff":3500},{"series":"(9) 497617","depth":13,"diff":1500},{"series":"(9) 497617","depth":14,"diff":-1000},{"series":"(9) 497617","depth":15,"diff":-3000},{"series":"(9) 497617","depth":16,"diff":-4500},{"series":"(9) 497617","depth":17,"diff":-5000},{"series":"(9) 497617","depth":18,"diff":-5000},{"series":"(9) 497617","depth":19,"diff":-4500},{"series":"(9) 497617","depth":20,"diff":-4000},{"series":"(9) 497617","depth":21,"diff":-3500},{"series":"(9) 497617","depth":22,"diff":-3000},{"series":"(9) 497617","depth":23,"diff":-2500},{"series":"(9) 497617","depth":24,"diff":-2000},{"series":"(9) 497617","depth":25,"diff":-1500},{"series":"(9) 497617","depth":26,"diff":-1100},{"series":"(9) 497617","depth":27,"diff":-800},{"series":"(9) 497617","depth":28,"diff":-600},{"series":"(9) 497617","depth":29,"diff":-400},{"series":"(9) 497617","depth":30,"diff":-200},{"series":"(9) 497617","depth":31,"diff":-150},{"series":"(9) 497617","depth":32,"diff":-100},
{"series":"(10) 480526","depth":0,"diff":0},{"series":"(10) 480526","depth":1,"diff":0},{"series":"(10) 480526","depth":2,"diff":150},{"series":"(10) 480526","depth":3,"diff":650},{"series":"(10) 480526","depth":4,"diff":1700},{"series":"(10) 480526","depth":5,"diff":3000},{"series":"(10) 480526","depth":6,"diff":4500},{"series":"(10) 480526","depth":7,"diff":5500},{"series":"(10) 480526","depth":8,"diff":2700},{"series":"(10) 480526","depth":9,"diff":6000},{"series":"(10) 480526","depth":10,"diff":5500},{"series":"(10) 480526","depth":11,"diff":4000},{"series":"(10) 480526","depth":12,"diff":2500},{"series":"(10) 480526","depth":13,"diff":1300},{"series":"(10) 480526","depth":14,"diff":100},{"series":"(10) 480526","depth":15,"diff":-2400},{"series":"(10) 480526","depth":16,"diff":-4000},{"series":"(10) 480526","depth":17,"diff":-4500},{"series":"(10) 480526","depth":18,"diff":-4500},{"series":"(10) 480526","depth":19,"diff":-4500},{"series":"(10) 480526","depth":20,"diff":-4000},{"series":"(10) 480526","depth":21,"diff":-3500},{"series":"(10) 480526","depth":22,"diff":-3000},{"series":"(10) 480526","depth":23,"diff":-2500},{"series":"(10) 480526","depth":24,"diff":-2000},{"series":"(10) 480526","depth":25,"diff":-1600},{"series":"(10) 480526","depth":26,"diff":-1300},{"series":"(10) 480526","depth":27,"diff":-1000},{"series":"(10) 480526","depth":28,"diff":-700},{"series":"(10) 480526","depth":29,"diff":-500},{"series":"(10) 480526","depth":30,"diff":-300},{"series":"(10) 480526","depth":31,"diff":-200},{"series":"(10) 480526","depth":32,"diff":-150},{"series":"(10) 480526","depth":33,"diff":-100}
]},
"hconcat":[
{"width":331,"height":341,"view":{"stroke":"#999999"},
"title":{"text":"(a) Coverage of top cascades","orient":"bottom","anchor":"middle","frame":"group","dx":-16,"offset":10},
"encoding":{
"x":{"field":"rank","type":"quantitative","scale":{"type":"log","domain":[0.447,7590000],"nice":false},
"axis":{"title":"Cascades Ranked by Size (from Largest to Smallest)","values":[1,3.162,10,31.62,100,316.2,1000,3162,10000,31623,100000,316228,1000000,3162278],
"labelExpr":"abs(log(datum.value)/LN10 - round(log(datum.value)/LN10)) > 0.1 ? '' : (round(log(datum.value)/LN10) == 0 ? '1' : '1e+' + round(log(datum.value)/LN10))",
"gridColor":{"condition":{"test":"abs(log(datum.value)/LN10 - round(log(datum.value)/LN10)) > 0.1","value":"#f5f5f5"},"value":"#e6e6e6"},
"tickOpacity":{"condition":{"test":"abs(log(datum.value)/LN10 - round(log(datum.value)/LN10)) > 0.1","value":0},"value":1},
"labelOverlap":false,"labelFontSize":10,"labelColor":"#4d4d4d","titleFontSize":14,"tickSize":3,"tickColor":"#333333","labelPadding":3,"titlePadding":13}},
"y":{"field":"coverage","type":"quantitative","scale":{"domain":[-4.8,104.7],"nice":false,"zero":false},
"axis":{"title":"Coverage (Percentage of Total User Population)","values":[0,5,10,15,20,25,30,35,40,45,50,55,60,65,70,75,80,85,90,95,100],
"labelExpr":"datum.value % 10 != 0 ? '' : (datum.value == 0 ? '0' : datum.value + '%')",
"gridColor":{"condition":{"test":"datum.value % 10 != 0","value":"#f5f5f5"},"value":"#e6e6e6"},
"tickOpacity":{"condition":{"test":"datum.value % 10 != 0","value":0},"value":1},
"labelOverlap":false,"labelFontSize":10,"labelColor":"#4d4d4d","titleFontSize":14,"tickSize":3,"tickColor":"#333333","labelPadding":2,"titlePadding":7}}},
"layer":[
{"data":{"name":"coverage"},"mark":{"type":"line","color":"black","strokeWidth":1,"interpolate":"monotone"}},
{"data":{"name":"arrows"},"mark":{"type":"rule","color":"black","strokeWidth":2},
"encoding":{"x2":{"field":"rank2"},"y2":{"field":"coverage2"}}},
{"data":{"name":"heads"},"mark":{"type":"point","filled":false,"stroke":"black","strokeWidth":2,"size":29,"opacity":1},
"encoding":{"shape":{"field":"dir","type":"nominal","scale":{"domain":["left","up"],"range":["M1.7,-1L0,0L1.7,1","M-1,1.7L0,0L1,1.7"]},"legend":null}}},
{"data":{"name":"notes"},"mark":{"type":"text","font":"Liberation Sans","fontWeight":"bold","fontSize":17,"color":"black","align":"center","baseline":"middle"},
"encoding":{"text":{"field":"note"}}}
]},
{"width":322,"height":347,"view":{"stroke":"#7f7f7f"},
"title":{"text":"(b) Growth of cascades shells","orient":"bottom","anchor":"middle","frame":"group","dx":-31,"offset":9},
"data":{"name":"shells"},
"mark":{"type":"line","strokeWidth":1,"interpolate":"monotone"},
"encoding":{
"x":{"field":"depth","type":"quantitative","scale":{"domain":[-2.8,58.8],"nice":false,"zero":false},
"axis":{"title":"Depth","values":[0,10,20,30,40,50],"labelExpr":"datum.value % 20 != 0 ? '' : datum.label",
"gridColor":{"condition":{"test":"datum.value % 20 != 0","value":"#f5f5f5"},"value":"#e6e6e6"},
"tickOpacity":{"condition":{"test":"datum.value % 20 != 0","value":0},"value":1},
"labelOverlap":false,"labelFontSize":14.5,"labelColor":"#333333","titleFontSize":18.5,"tickSize":3,"tickColor":"#7f7f7f","labelPadding":2,"titlePadding":1}},
"y":{"field":"size","type":"quantitative","scale":{"domain":[-6720,141120],"nice":false,"zero":false},
"axis":{"title":"Shell Size","values":[0,25000,50000,75000,100000,125000],
"labelExpr":"datum.value == 0 ? '0e+00' : datum.value == 50000 ? '5e+04' : datum.value == 100000 ? '1e+05' : ''",
"gridColor":{"condition":{"test":"datum.value % 50000 != 0","value":"#f5f5f5"},"value":"#e6e6e6"},
"tickOpacity":{"condition":{"test":"datum.value % 50000 != 0","value":0},"value":1},
"labelOverlap":false,"labelFontSize":14.5,"labelColor":"#333333","titleFontSize":18.5,"tickSize":3,"tickColor":"#7f7f7f","labelPadding":4,"titlePadding":3}},
"color":{"field":"series","type":"nominal","scale":{"domain":["(1) 1820995","(2) 1757747","(3) 1053378","(4) 874514","(5) 780809","(6) 681745","(7) 622582","(8) 554010","(9) 497617","(10) 480526"],"range":["#000000","#000000","#000000","#000000","#000000","#000000","#8c8c8c","#8c8c8c","#8c8c8c","#8c8c8c"]},
"legend":{"title":"Cascades Size","orient":"none","legendX":167,"legendY":23,"fillColor":"white","padding":3,"titleFontSize":15,"titleFontWeight":"bold","titleColor":"#000000","titlePadding":2,"labelFontSize":14.5,"labelColor":"#000000","labelOffset":2,"symbolType":"stroke","symbolSize":144,"symbolStrokeWidth":1,"rowPadding":-2}},
"strokeDash":{"field":"series","type":"nominal","scale":{"domain":["(1) 1820995","(2) 1757747","(3) 1053378","(4) 874514","(5) 780809","(6) 681745","(7) 622582","(8) 554010","(9) 497617","(10) 480526"],"range":[[1,0],[4,3],[1,2],[1,2,4,2],[6,2],[2,2,6,2],[1,0],[4,3],[1,2],[1,2,4,2]]},
"legend":{"title":"Cascades Size","orient":"none","legendX":167,"legendY":23,"fillColor":"white","padding":3,"titleFontSize":15,"titleFontWeight":"bold","titleColor":"#000000","titlePadding":2,"labelFontSize":14.5,"labelColor":"#000000","labelOffset":2,"symbolType":"stroke","symbolSize":144,"symbolStrokeWidth":1,"rowPadding":-2}}}},
{"width":308,"height":346,"view":{"stroke":"#7f7f7f"},
"title":{"text":"(c) Differential shell size growth","orient":"bottom","anchor":"middle","frame":"group","dx":-32,"offset":9},
"data":{"name":"diffs"},
"mark":{"type":"line","strokeWidth":1},
"encoding":{
"x":{"field":"depth","type":"quantitative","scale":{"domain":[-2.7,58.2],"nice":false,"zero":false},
"axis":{"title":"Depth","values":[0,10,20,30,40,50],"labelExpr":"datum.value % 20 != 0 ? '' : datum.label",
"gridColor":{"condition":{"test":"datum.value % 20 != 0","value":"#f5f5f5"},"value":"#e6e6e6"},
"tickOpacity":{"condition":{"test":"datum.value % 20 != 0","value":0},"value":1},
"labelOverlap":false,"labelFontSize":14.5,"labelColor":"#333333","titleFontSize":18.5,"tickSize":3,"tickColor":"#7f7f7f","labelPadding":2,"titlePadding":1}},
"y":{"field":"diff","type":"quantitative","scale":{"domain":[-16300,22250],"nice":false,"zero":false},
"axis":{"title":"Difference in Shell Sizes","values":[-15000,-10000,-5000,0,5000,10000,15000,20000],"format":"d",
"labelExpr":"datum.value % 10000 != 0 ? '' : datum.label",
"gridColor":{"condition":{"test":"datum.value % 10000 != 0","value":"#f5f5f5"},"value":"#e6e6e6"},
"tickOpacity":{"condition":{"test":"datum.value % 10000 != 0","value":0},"value":1},
"labelOverlap":false,"labelFontSize":14.5,"labelColor":"#333333","titleFontSize":18.5,"tickSize":3,"tickColor":"#7f7f7f","labelPadding":3,"titlePadding":2}},
"color":{"field":"series","type":"nominal","scale":{"domain":["(1) 1820995","(2) 1757747","(3) 1053378","(4) 874514","(5) 780809","(6) 681745","(7) 622582","(8) 554010","(9) 497617","(10) 480526"],"range":["#000000","#000000","#000000","#000000","#000000","#000000","#8c8c8c","#8c8c8c","#8c8c8c","#8c8c8c"]},
"legend":{"title":"Cascades Size","orient":"none","legendX":161,"legendY":23,"fillColor":"white","padding":3,"titleFontSize":15,"titleFontWeight":"bold","titleColor":"#000000","titlePadding":2,"labelFontSize":14.5,"labelColor":"#000000","labelOffset":2,"symbolType":"stroke","symbolSize":144,"symbolStrokeWidth":1,"rowPadding":-2}},
"strokeDash":{"field":"series","type":"nominal","scale":{"domain":["(1) 1820995","(2) 1757747","(3) 1053378","(4) 874514","(5) 780809","(6) 681745","(7) 622582","(8) 554010","(9) 497617","(10) 480526"],"range":[[1,0],[4,3],[1,2],[1,2,4,2],[6,2],[2,2,6,2],[1,0],[4,3],[1,2],[1,2,4,2]]},
"legend":{"title":"Cascades Size","orient":"none","legendX":161,"legendY":23,"fillColor":"white","padding":3,"titleFontSize":15,"titleFontWeight":"bold","titleColor":"#000000","titlePadding":2,"labelFontSize":14.5,"labelColor":"#000000","labelOffset":2,"symbolType":"stroke","symbolSize":144,"symbolStrokeWidth":1,"rowPadding":-2}}}}
]
}
